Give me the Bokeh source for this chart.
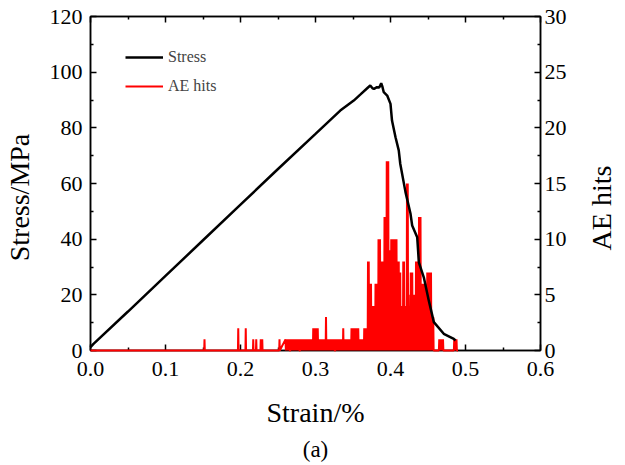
import numpy as np
from bokeh.plotting import figure
from bokeh.layouts import row
from bokeh.models import (Range1d, LinearAxis, FixedTicker, PrintfTickFormatter,
                          Legend, LegendItem, Title)
from bokeh.embed import file_html
from bokeh.resources import INLINE

# ---------------- data ----------------
stress_strain = [0.000, 0.004, 0.050, 0.100, 0.150, 0.200, 0.250, 0.300, 0.333, 0.351,
                 0.360, 0.370, 0.373, 0.376, 0.378, 0.382, 0.385, 0.3876, 0.389, 0.391,
                 0.3956, 0.400, 0.402, 0.4067, 0.411, 0.413, 0.420, 0.4267, 0.4289, 0.4356,
                 0.4378, 0.4444, 0.451, 0.4578, 0.471, 0.4844, 0.4867]
stress_mpa = [1.2, 2.4, 14.0, 26.8, 39.6, 52.4, 65.2, 77.8, 86.2, 89.8,
              92.0, 94.5, 95.2, 94.2, 94.0, 94.6, 94.5, 96.0, 95.0, 92.8,
              91.6, 88.6, 82.6, 76.6, 71.9, 67.1, 56.9, 49.1, 44.9, 40.7,
              31.7, 26.3, 18.0, 10.2, 6.0, 4.2, 3.6]

# isolated AE events before the dense stage
ae_event_strain = [0.152, 0.197, 0.207, 0.217, 0.221, 0.227, 0.229, 0.252]
ae_event_hits = [1, 2, 2, 1, 1, 1, 1, 1]

# dense AE stage: peak hits per 0.001 % strain bin, from 0.260 %
ae_dense_start = 0.260
ae_dense_step = 0.001
ae_dense_hits = [
    1, 1, 1, 1, 1, 1, 0, 1, 1, 1,        # 0.260
    1, 1, 1, 1, 1, 1, 1, 1, 1, 0,        # 0.270
    1, 1, 1, 1, 1, 1, 1, 1, 1, 1,        # 0.280
    1, 1, 1, 1, 1, 1, 1, 2, 2, 2,        # 0.290
    2, 2, 2, 2, 1, 1, 1, 1, 1, 1,        # 0.300
    1, 1, 1, 1, 3, 1, 1, 1, 1, 1,        # 0.310
    1, 1, 1, 1, 1, 1, 0, 1, 1, 1,        # 0.320
    1, 1, 1, 1, 1, 1, 1, 2, 1, 1,        # 0.330
    1, 1, 1, 1, 1, 1, 1, 1, 2, 2,        # 0.340
    2, 2, 2, 1, 2, 2, 2, 2, 1, 1,        # 0.350
    1, 1, 1, 1, 1, 2, 2, 2, 2, 2,        # 0.360
    8, 8, 6, 6, 6, 4, 3, 4, 4, 3,        # 0.370
    6, 6, 6, 6, 10, 10, 10, 8, 8, 8,     # 0.380
    8, 8, 12, 12, 12, 17, 17, 17, 9, 9,  # 0.390
    9, 10, 7, 10, 9, 10, 8, 10, 10, 6,   # 0.400
    8, 8, 7, 7, 4, 4, 4, 8, 8, 4,        # 0.410
    4, 4, 15, 15, 5, 4, 4, 7, 7, 7,      # 0.420
    5, 5, 5, 5, 8, 8, 8, 7, 12, 12,      # 0.430
    12, 6, 6, 6, 6, 5, 6, 6, 6, 7,       # 0.440
    7, 7, 7, 7, 7, 3, 3, 3, 0, 0,        # 0.450
    0, 0, 0, 0, 0, 1, 1, 1, 1, 1,        # 0.460
    1, 0, 0, 0, 0, 0, 0, 0, 0, 0,        # 0.470
    0, 0, 0, 0, 0, 1, 1, 1, 1, 0,        # 0.480
]
ae_end_strain = 0.490

x_ticks = [0.0, 0.1, 0.2, 0.3, 0.4, 0.5, 0.6]
x_minor = [0.05, 0.15, 0.25, 0.35, 0.45, 0.55]
stress_ticks = [0, 20, 40, 60, 80, 100, 120]
stress_minor = [10, 30, 50, 70, 90, 110]
ae_ticks = [0, 5, 10, 15, 20, 25, 30]
ae_minor = [2.5, 7.5, 12.5, 17.5, 22.5, 27.5]

# ---------------- build AE path ----------------
ae_x = [0.0]
ae_y = [0]
half = 0.0004
for s, h in zip(ae_event_strain, ae_event_hits):
    ae_x += [s - half, s, s + half]
    ae_y += [0, h, 0]
for i, h in enumerate(ae_dense_hits):
    xv = ae_dense_start + i * ae_dense_step
    ae_x += [xv, xv + ae_dense_step / 2]
    ae_y += [h, 0]
ae_x.append(ae_end_strain)
ae_y.append(0)

FONT = "Liberation Serif"
NB = "\u00a0"

p = figure(width=583, height=465, x_range=Range1d(0, 0.6), y_range=Range1d(0, 120),
           output_backend="svg", toolbar_location=None,
           min_border_left=90, min_border_right=43, min_border_top=16, min_border_bottom=20)
p.extra_y_ranges = {"ae": Range1d(0, 30)}
p.xgrid.visible = False
p.ygrid.visible = False
p.outline_line_color = "black"
p.outline_line_width = 1.5

ae_r = p.line(ae_x, ae_y, y_range_name="ae", line_color="#ff0000", line_width=2)
st_r = p.line(stress_strain, stress_mpa, line_color="black", line_width=2.5)
ae_r.level = "overlay"
st_r.level = "overlay"

def style_axis(ax, ticks, minor):
    ax.ticker = FixedTicker(ticks=ticks, minor_ticks=minor)
    ax.axis_line_color = "black"
    ax.axis_line_width = 1.5
    ax.major_tick_in = 6
    ax.major_tick_out = 0
    ax.minor_tick_in = 3
    ax.minor_tick_out = 0
    ax.major_tick_line_width = 1.5
    ax.minor_tick_line_width = 1.5
    ax.major_tick_line_color = "black"
    ax.minor_tick_line_color = "black"
    ax.major_label_text_font = FONT
    ax.major_label_text_font_size = "22px"
    ax.major_label_text_color = "black"
    ax.axis_label_text_font = FONT
    ax.axis_label_text_font_size = "28px"
    ax.axis_label_text_font_style = "normal"
    ax.axis_label_text_color = "black"

xa = p.xaxis[0]
style_axis(xa, x_ticks, x_minor)
xa.formatter = PrintfTickFormatter(format="%.1f")
xa.axis_label = "Strain/%"
xa.major_label_standoff = 11
xa.axis_label_standoff = 18

ya = p.yaxis[0]
style_axis(ya, stress_ticks, stress_minor)
ya.axis_label = "Stress/MPa" + NB * 4
ya.major_label_standoff = 8
ya.axis_label_standoff = 12

ra = LinearAxis(y_range_name="ae")
style_axis(ra, ae_ticks, ae_minor)
ra.major_label_standoff = 4
p.add_layout(ra, "right")

ta = LinearAxis()
style_axis(ta, x_ticks, x_minor)
ta.major_label_text_font_size = "0px"
ta.major_label_standoff = 0
p.add_layout(ta, "above")

legend = Legend(items=[LegendItem(label="Stress", renderers=[st_r]),
                       LegendItem(label="AE hits", renderers=[ae_r])],
                location=(35, 254))
legend.label_text_font = FONT
legend.label_text_font_size = "16px"
legend.glyph_width = 38
legend.glyph_height = 20
legend.label_height = 20
legend.spacing = 9
legend.padding = 0
legend.margin = 0
legend.label_standoff = 5
legend.border_line_alpha = 0
legend.background_fill_alpha = 0
p.add_layout(legend, "center")

cap = Title(text="(a)", align="center", text_font=FONT, text_font_size="23px",
            text_font_style="normal", text_color="black", standoff=8)
p.add_layout(cap, "below")

# narrow strip holding the right-hand axis title (reads bottom to top)
p2 = figure(width=42, height=465, x_axis_type=None, y_axis_type=None,
            output_backend="svg", toolbar_location=None,
            min_border_left=0, min_border_right=0, min_border_top=16, min_border_bottom=65)
p2.outline_line_color = None
p2.add_layout(Title(text="AE hits" + NB * 7, align="center", text_font=FONT,
                    text_font_size="28px", text_font_style="normal",
                    text_color="black", standoff=0), "left")

layout = row(p, p2, spacing=0)
open("out.html", "w").write(file_html(layout, INLINE))
